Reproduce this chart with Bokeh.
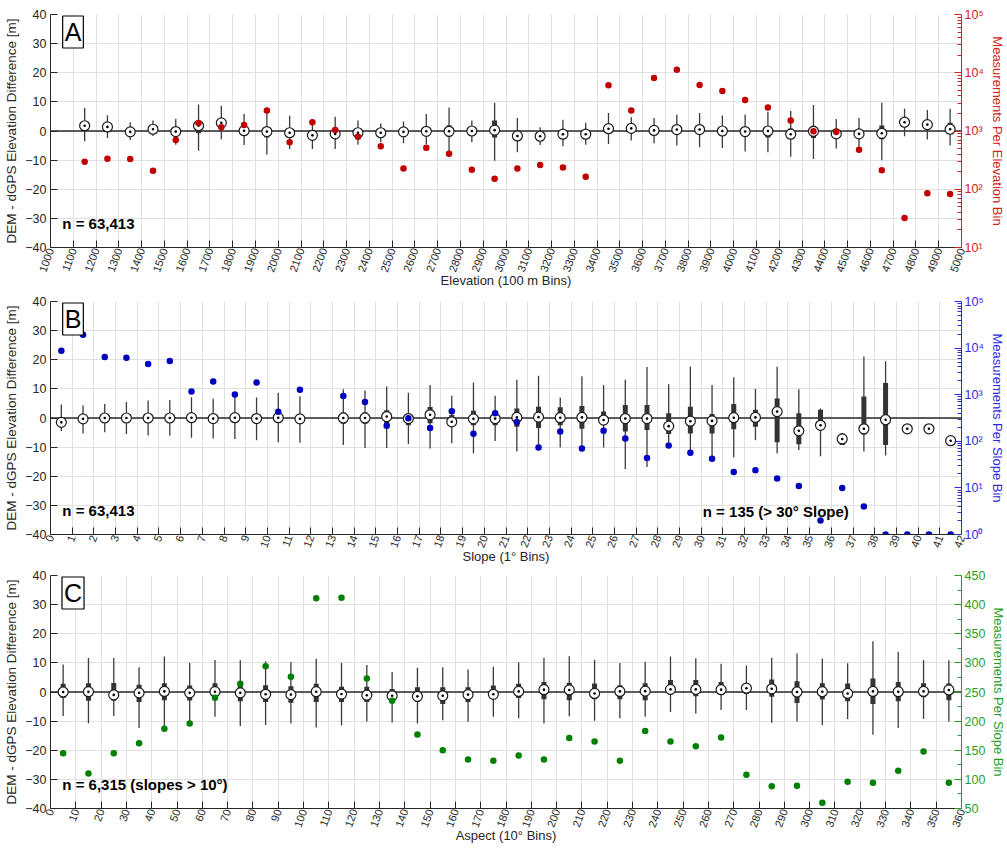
import math
import numpy as np
from bokeh.plotting import figure
from bokeh.models import (Range1d, LinearAxis, LogAxis, LogScale, FixedTicker,
                          CustomJSTickFormatter, Label, Span)
from bokeh.layouts import column
from bokeh.embed import file_html
from bokeh.resources import INLINE

nan = float("nan")

# ---------------- Panel A: elevation ----------------
elev_bins = list(range(1150, 5000, 100))
elev_med = [1.8, 1.4, -0.3, 0.6, -0.2, 1.8, 2.8, 0.1, -0.2, -0.6, -1.5, -1.0, -0.6, -0.6, -0.3, -0.1, -0.1, 0.0, 0.3,
            -1.7, -1.8, -1.1, -1.1, 0.8, 0.9, 0.2, 0.5, 0.5, 0.0, -0.2, 0.0, -1.1, -0.1, -1.0, -1.0, -0.8, 3.0, 2.2, 0.6]
elev_q1 = [0.5, 0.3, -1.0, -0.3, -1.2, -0.8, 1.5, -1.0, -2.2, -1.0, -2.5, -2.0, -1.5, -1.3, -1.0, -1.6, -2.0, -0.8, -2.2,
           -2.5, -2.5, -2.0, -2.0, -0.5, 0.0, -0.7, -0.5, -0.5, -1.0, -2.0, -2.2, -2.0, -2.4, -2.0, -2.0, -2.8, 1.8, 0.4, -0.2]
elev_q3 = [3.3, 2.5, 0.8, 1.5, 0.7, 3.0, 4.0, 1.0, 1.3, 0.9, -0.3, 0.0, 0.3, 0.2, 0.5, 1.3, 2.0, 0.8, 3.6,
           -0.3, -1.0, 0.0, -0.3, 1.7, 2.0, 1.0, 1.3, 1.5, 1.0, 1.3, 1.5, 0.9, 1.8, 0.0, 0.0, 1.9, 4.9, 2.4, 2.8]
elev_wlo = [-3.5, -2.4, -3.1, -1.7, -4.7, -6.8, -2.8, -4.8, -8.1, -6.2, -6.2, -6.2, -4.7, -3.9, -4.2, -4.5, -8.5, -3.9, -10.2,
            -7.3, -4.8, -5.2, -4.7, -4.5, -3.3, -4.2, -5.0, -5.6, -5.8, -7.0, -7.3, -8.8, -9.6, -6.0, -5.4, -10.0, -1.8, -2.9, -5.0]
elev_whi = [7.9, 5.4, 3.0, 3.6, 4.2, 9.1, 8.7, 5.8, 6.4, 5.2, 3.5, 4.9, 3.6, 2.6, 3.3, 5.8, 8.1, 3.6, 9.7,
            4.5, 1.3, 3.9, 2.8, 6.2, 4.7, 4.5, 5.6, 6.2, 5.3, 5.7, 6.6, 6.9, 8.9, 4.1, 4.5, 9.7, 7.6, 7.2, 7.6]
elev_cnt = [297, 334, 330, 208, 700, 1375, 1156, 1268, 2240, 638, 1410, 1040, 800, 545, 228, 516, 407, 216, 152,
            228, 260, 237, 164, 6100, 2240, 8150, 11300, 6180, 4870, 3410, 2520, 1510, 986, 975, 477, 211, 32, 85, 83]
elev_ticks = list(range(1000, 5001, 100))

# ---------------- Panel B: slope ----------------
slope_bins = [b + 0.5 for b in range(42)]
slope_med = [-1.5, -0.3, 0.0, 0.0, 0.0, 0.0, 0.1, -0.2, 0.1, -0.2, 0.1, -0.3, nan, 0.0, 0.0, 0.5, -0.2, 1.1, -1.3, -0.3, -0.2,
             0.2, 0.3, 0.1, 0.2, -0.7, -0.2, -0.2, -2.8, -1.1, -1.0, 0.1, 0.2, 2.2, -4.4, -2.5, -7.2, -3.7, -0.6, -3.7, -3.7, -7.8]
slope_q1 = [-1.8, -1.0, -0.8, -0.8, -1.0, -1.0, -1.2, -1.3, -1.5, -1.5, -1.5, -2.0, nan, -2.0, -2.0, -2.0, -2.5, -1.8, -2.5, -2.5, -2.5,
            -3.0, -3.4, -2.5, -3.7, -2.4, -4.6, -4.1, -5.5, -5.3, -5.3, -3.9, -3.0, -8.3, -9.0, -2.5, -9.3, -5.7, -9.3, -3.7, -3.7, -7.8]
slope_q3 = [0.3, 0.5, 0.8, 0.8, 1.0, 1.0, 1.2, 1.1, 1.5, 1.3, 1.5, 1.2, nan, 2.0, 2.0, 2.7, 1.5, 3.8, 1.0, 2.5, 1.5,
            3.3, 3.9, 3.7, 4.1, 2.2, 4.5, 4.5, 1.6, 3.9, 1.4, 4.8, 2.8, 6.7, 1.6, 2.8, -5.3, 7.4, 12.0, -3.7, -3.7, -7.8]
slope_wlo = [-4.5, -5.3, -4.9, -5.5, -6.0, -6.1, -6.8, -7.0, -7.2, -7.6, -8.3, -8.5, nan, -9.3, -10.3, -10.3, -8.9, -10.5, -8.7, -12.2, -7.9,
             -11.5, -11.0, -10.1, -11.0, -10.1, -17.5, -16.8, -8.3, -11.0, -13.6, -13.6, -7.6, -12.2, -11.0, -13.1, -9.3, -11.5, -12.9, -3.7, -3.7, -7.8]
slope_whi = [4.6, 4.3, 4.8, 5.5, 6.0, 6.2, 7.1, 6.6, 7.4, 7.0, 8.7, 7.5, nan, 9.9, 9.4, 10.8, 8.7, 11.3, 7.6, 12.2, 7.6,
             13.1, 14.5, 7.0, 14.3, 11.3, 13.1, 17.5, 11.6, 17.7, 11.3, 14.0, 10.0, 17.6, 9.9, 3.3, -5.3, 21.1, 19.5, -3.7, -3.7, -7.8]
slope_cnt = [8790, 19400, 6420, 6210, 4540, 5260, 1170, 1920, 1007, 1825, 433, 1270, nan, 942, 700, 216, 311, 192, 440, 145, 400,
             259, 74, 163, 70, 169, 115, 44, 81, 57, 42, 22, 24, 16, 11, 2, 10, 4, 1, 1, 1, 1]
slope_ticks = list(range(0, 43))

# ---------------- Panel C: aspect ----------------
asp_bins = list(range(5, 360, 10))
asp_med = [0.0, 0.1, -1.0, -0.3, 0.2, -0.3, 0.1, -0.3, -0.8, -0.9, 0.1, -0.7, -1.1, -1.3, -1.5, -1.3, -0.9, -0.8,
           0.2, 0.8, 0.7, -0.5, 0.2, 0.3, 0.9, 0.9, 0.8, 1.3, 1.1, 0.0, 0.1, -0.5, 0.2, 0.1, 0.2, 0.7]
asp_q1 = [-2.1, -3.0, -3.0, -3.4, -2.8, -2.9, -2.3, -3.2, -3.4, -3.7, -3.4, -3.4, -3.4, -2.8, -3.4, -4.1, -3.4, -2.1,
          -2.1, -2.5, -2.8, -2.5, -2.5, -2.8, -0.9, -1.5, -0.9, -0.7, -1.6, -3.8, -2.6, -3.2, -4.1, -3.2, -1.8, -2.8]
asp_q3 = [2.8, 3.0, 3.1, 2.5, 3.0, 2.2, 3.0, 2.8, 2.3, 2.0, 2.8, 1.8, 1.8, 1.0, 1.6, 1.6, 1.6, 2.2,
          2.8, 3.4, 3.2, 2.9, 2.3, 3.0, 4.1, 4.1, 3.4, 3.1, 4.3, 3.7, 3.0, 2.9, 4.6, 3.4, 3.0, 2.9]
asp_wlo = [-8.2, -10.7, -8.2, -12.4, -12.4, -10.7, -8.5, -11.7, -11.3, -10.8, -12.2, -11.5, -10.1, -10.5, -10.8, -9.7, -10.2, -8.5,
           -9.0, -10.8, -8.3, -9.9, -9.0, -8.5, -6.9, -7.4, -6.2, -6.2, -10.6, -10.1, -11.4, -9.3, -14.7, -12.4, -9.3, -10.1]
asp_whi = [9.4, 11.7, 11.7, 8.5, 12.2, 10.0, 11.0, 10.9, 10.6, 10.3, 11.4, 10.0, 9.3, 6.9, 8.3, 8.5, 7.7, 8.7,
           10.1, 11.8, 12.3, 11.1, 10.0, 10.3, 12.2, 11.6, 9.7, 9.1, 11.8, 13.2, 11.5, 9.9, 17.4, 13.8, 11.0, 10.9]
asp_cnt = [145, 110, 145, 162, 187, 196, 240, 264, 294, 276, 411, 412, 273, 235, 177, 150, 134, 132,
           141, 134, 171, 165, 132, 183, 165, 157, 172, 108, 88, 89, 60, 96, 94, 115, 148, 94]
asp_ticks = list(range(0, 361, 10))

y_ticks = list(range(-40, 41, 10))

FONT = "Liberation Sans"
TXT = "#262626"

SUP = CustomJSTickFormatter(code="""
const s = {'0':'\u2070','1':'\u00b9','2':'\u00b2','3':'\u00b3','4':'\u2074','5':'\u2075','6':'\u2076','7':'\u2077','8':'\u2078','9':'\u2079','-':'\u207b'};
const e = Math.round(Math.log10(tick));
return '10' + String(e).split('').map(c => s[c]).join('');
""")


def panel(xs, med, q1, q3, wlo, whi, cnt, x_lo, x_hi, xticks, cnt_lo, cnt_hi, log_right,
          cnt_ticks, cnt_minor, dot_color, axis_color, xlabel, rlabel, letter, notes, top, bottom):
    p = figure(frame_width=911, frame_height=233, x_range=Range1d(x_lo, x_hi), y_range=Range1d(-40, 40),
               output_backend="svg", toolbar_location=None,
               min_border_left=50, min_border_right=46, min_border_top=top, min_border_bottom=bottom)
    p.outline_line_color = None
    p.background_fill_color = "white"
    p.border_fill_color = "white"

    xt = FixedTicker(ticks=xticks, minor_ticks=[])
    yt = FixedTicker(ticks=y_ticks, minor_ticks=[])
    p.xaxis.ticker = xt
    p.yaxis.ticker = yt
    p.xgrid.ticker = xt
    p.ygrid.ticker = yt
    for g in (p.xgrid, p.ygrid):
        g.grid_line_color = "#dfdfdf"
        g.grid_line_width = 1

    for ax in (p.xaxis, p.yaxis):
        ax.axis_line_color = TXT
        ax.major_tick_line_color = TXT
        ax.major_tick_in = 7
        ax.major_tick_out = 0
        ax.minor_tick_line_color = None
        ax.major_label_text_font = FONT
        ax.major_label_text_color = TXT
        ax.axis_label_text_font = FONT
        ax.axis_label_text_color = TXT
        ax.axis_label_text_font_style = "normal"
    p.yaxis.axis_label_text_font_size = "13.5px"
    p.xaxis.axis_label_text_font_size = "13px"
    p.yaxis.major_label_text_font_size = "12.5px"
    p.xaxis.major_label_text_font_size = "11px"
    p.xaxis.major_label_orientation = math.radians(70)
    p.xaxis.major_label_standoff = 1
    p.xaxis.axis_label_standoff = -4
    p.yaxis.major_label_standoff = 4
    p.yaxis.axis_label_standoff = 3
    p.xaxis.axis_label = xlabel
    p.yaxis.axis_label = "DEM - dGPS Elevation Difference [m]"

    p.extra_y_ranges = {"cnt": Range1d(cnt_lo, cnt_hi)}
    rt = FixedTicker(ticks=cnt_ticks, minor_ticks=cnt_minor)
    if log_right:
        p.extra_y_scales = {"cnt": LogScale()}
        rax = LogAxis(y_range_name="cnt", ticker=rt, formatter=SUP)
    else:
        rax = LinearAxis(y_range_name="cnt", ticker=rt)
    rax.axis_line_color = axis_color
    rax.major_tick_line_color = axis_color
    rax.minor_tick_line_color = axis_color
    rax.major_tick_in = 7
    rax.major_tick_out = 0
    rax.minor_tick_in = 4
    rax.minor_tick_out = 0
    rax.major_label_text_font = FONT
    rax.major_label_text_color = axis_color
    rax.major_label_text_font_size = "12.5px"
    rax.major_label_standoff = 3
    rax.axis_label = rlabel
    rax.axis_label_text_font = FONT
    rax.axis_label_text_color = axis_color
    rax.axis_label_text_font_style = "normal"
    rax.axis_label_text_font_size = "13px"
    rax.axis_label_standoff = 3
    p.add_layout(rax, "right")

    p.add_layout(Span(location=0, dimension="width", line_color="#2a2a2a", line_width=1.5, level="underlay"))

    xs = np.array(xs, dtype=float)
    p.segment(x0=xs, y0=np.array(wlo, float), x1=xs, y1=np.array(whi, float),
              line_color="#3c3c3c", line_width=1.3)
    p.segment(x0=xs, y0=np.array(q1, float), x1=xs, y1=np.array(q3, float),
              line_color="#333333", line_width=5, line_cap="butt")
    p.scatter(xs, np.array(med, float), marker="circle", size=10, fill_color="white",
              line_color="#1a1a1a", line_width=1.2)
    p.scatter(xs, np.array(med, float), marker="circle", size=2.6, fill_color="black", line_color=None)
    p.scatter(xs, np.array(cnt, float), y_range_name="cnt", marker="circle", size=6.5,
              fill_color=dot_color, line_color=None)

    fx = lambda f: x_lo + f * (x_hi - x_lo)
    fy = lambda f: 40 - f * 80
    p.add_layout(Label(x=fx(0.0247), y=fy(0.075), text=letter, text_align="center", text_baseline="middle",
                       text_font=FONT, text_font_size="25px", text_color="black",
                       background_fill_color="white", border_line_color="black", border_line_width=1.2,
                       padding=2))
    for (t, xf, yf) in notes:
        p.add_layout(Label(x=fx(xf), y=fy(yf), text=t, text_align="left", text_baseline="middle",
                           text_font=FONT, text_font_size="15px", text_font_style="bold", text_color="black"))
    return p


log_minor = lambda lo, hi: [m * 10 ** k for k in range(lo, hi) for m in range(2, 10)]

pA = panel(elev_bins, elev_med, elev_q1, elev_q3, elev_wlo, elev_whi, elev_cnt, 1000, 5000, elev_ticks,
           10, 1e5, True, [10, 100, 1000, 10000, 100000], log_minor(1, 5), "#c00000", "#d42020",
           "Elevation (100 m Bins)", "Measurements Per Elevation Bin", "A",
           [("n = 63,413", 0.013, 0.897)], 14, 40)
pB = panel(slope_bins, slope_med, slope_q1, slope_q3, slope_wlo, slope_whi, slope_cnt, 0, 42, slope_ticks,
           1, 1e5, True, [1, 10, 100, 1000, 10000, 100000], log_minor(0, 5), "#0000c0", "#2a2ae0",
           "Slope (1\u00b0 Bins)", "Measurements Per Slope Bin", "B",
           [("n = 63,413", 0.013, 0.897), ("n = 135 (> 30\u00b0 Slope)", 0.716, 0.90)], 10, 30)
pC = panel(asp_bins, asp_med, asp_q1, asp_q3, asp_wlo, asp_whi, asp_cnt, 0, 360, asp_ticks,
           50, 450, False, list(range(50, 451, 50)), list(range(75, 450, 50)), "#008000", "#1f9f1f",
           "Aspect (10\u00b0 Bins)", "Measurements Per Slope Bin", "C",
           [("n = 6,315 (slopes > 10\u00b0)", 0.013, 0.897)], 9, 38)

layout = column(pA, pB, pC, spacing=0)
open("out.html", "w").write(file_html(layout, INLINE))
